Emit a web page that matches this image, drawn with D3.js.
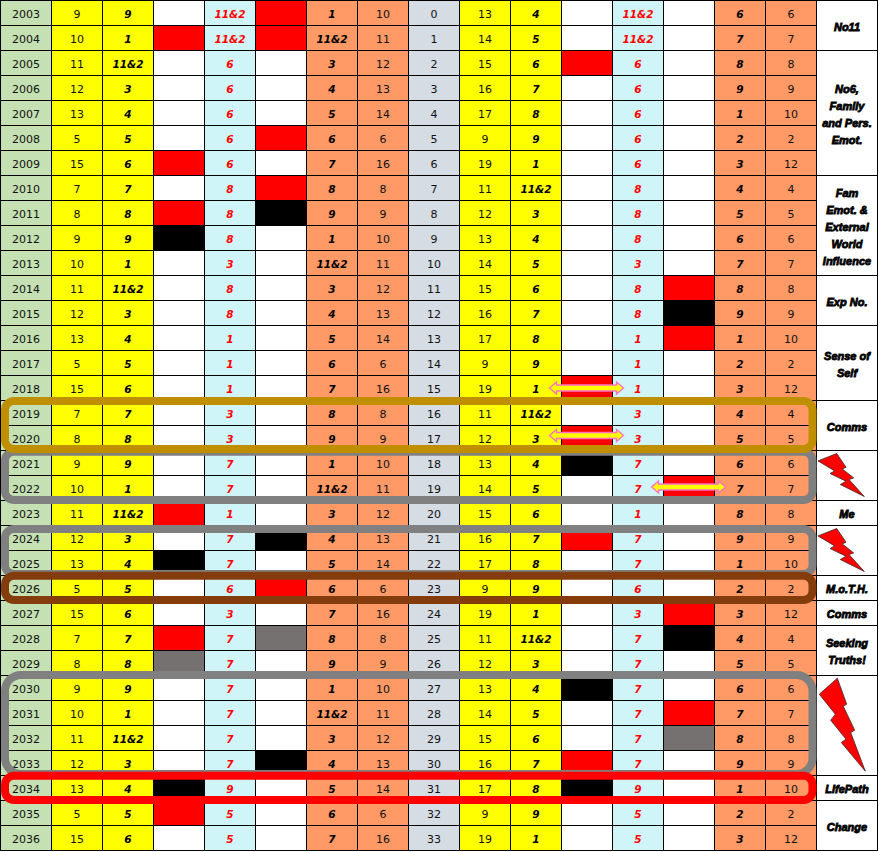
<!DOCTYPE html>
<html>
<head>
<meta charset="utf-8">
<script src="https://cdn.jsdelivr.net/npm/d3@7"></script>
<style>
  body { margin: 0; background: #fff; }
  text { text-anchor: middle; }
  .plain { font: 11px "DejaVu Sans", sans-serif; fill: #111; }
  .bold { font: italic bold 10.5px "DejaVu Sans", sans-serif; fill: #000; }
  .redbold { font: italic bold 10.5px "DejaVu Sans", sans-serif; fill: #f00; }
  .note { font: italic bold 11px "Liberation Sans", sans-serif; fill: #000; stroke: #000; stroke-width: 0.8px; }
</style>
</head>
<body>
<div id="chart"></div>
<script>
const years = d3.range(2003, 2037);

//the number columns, left to right, one value per year
const personal = [9,10,11,12,13,5,15,7,8,9,10,11,12,13,5,15,7,8,9,10,11,12,13,5,15,7,8,9,10,11,12,13,5,15];
const reducedA = ["9","1","11&2","3","4","5","6","7","8","9","1","11&2","3","4","5","6","7","8","9","1","11&2","3","4","5","6","7","8","9","1","11&2","3","4","5","6"];
const pinnacle = ["11&2","11&2","6","6","6","6","6","8","8","8","3","8","8","1","1","1","3","3","7","7","1","7","7","6","3","7","7","7","7","7","7","9","5","5"];
const reducedB = ["1","11&2","3","4","5","6","7","8","9","1","11&2","3","4","5","6","7","8","9","1","11&2","3","4","5","6","7","8","9","1","11&2","3","4","5","6","7"];
const totalB = [10,11,12,13,14,6,16,8,9,10,11,12,13,14,6,16,8,9,10,11,12,13,14,6,16,8,9,10,11,12,13,14,6,16];
const age = d3.range(0, 34);
const totalC = [13,14,15,16,17,9,19,11,12,13,14,15,16,17,9,19,11,12,13,14,15,16,17,9,19,11,12,13,14,15,16,17,9,19];
const reducedC = ["4","5","6","7","8","9","1","11&2","3","4","5","6","7","8","9","1","11&2","3","4","5","6","7","8","9","1","11&2","3","4","5","6","7","8","9","1"];
const reducedD = ["6","7","8","9","1","2","3","4","5","6","7","8","9","1","2","3","4","5","6","7","8","9","1","2","3","4","5","6","7","8","9","1","2","3"];
const totalD = [6,7,8,9,10,2,12,4,5,6,7,8,9,10,2,12,4,5,6,7,8,9,10,2,12,4,5,6,7,8,9,10,2,12];

//years marked in the four blank columns
const redA = [2004,2009,2011,2023,2028,2035];
const blackA = [2012,2025,2034];
const greyA = [2029];
const redB = [2003,2004,2008,2010,2026];
const blackB = [2011,2024,2033];
const greyB = [2028];
const redC = [2005,2018,2020,2024,2033];
const blackC = [2021,2030,2034];
const greyC = [];
const redD = [2014,2016,2022,2027,2031];
const blackD = [2015,2028];
const greyD = [2032];

//merged cells on the right, first year, last year, text (empty = lightning bolt)
const noteFrom = [2003,2005,2010,2014,2016,2019,2021,2023,2024,2026,2027,2028,2030,2034,2035];
const noteTo = [2004,2009,2013,2015,2018,2020,2022,2023,2025,2026,2027,2029,2033,2034,2036];
const noteText = ["No11","No6,|Family|and Pers.|Emot.","Fam|Emot. &|External|World|Influence","Exp No.","Sense of|Self","Comms","","Me","","M.o.T.H.","Comms","Seeking|Truths!","","LifePath","Change"];

//rounded frames over the table, grey ones first because the others sit on top
const frameFrom = [2021,2024,2030,2019,2026,2034];
const frameTo = [2022,2025,2033,2020,2026,2034];
const frameKind = ["grey","grey","grey","gold","brown","red"];

//double arrows
const arrowYear = [2018,2020,2022];
const arrowColumn = ["markC","markC","markD"];

const w = 879;
const h = 852;
const colours = {
  green: "#c5e0b3", yellow: "#ffff00", white: "#ffffff", blue: "#d0f5f9",
  orange: "#ff9966", slate: "#d6dce4", R: "#ff0000", K: "#000000", G: "#767171",
  grey: "#808080", gold: "#bf8f00", brown: "#843c0c", red: "#ff0000"
};

const columns = [
  { key: "year", values: years, bg: colours.green, cls: "plain" },
  { key: "personal", values: personal, bg: colours.yellow, cls: "plain" },
  { key: "reducedA", values: reducedA, bg: colours.yellow, cls: "bold" },
  { key: "markA", marks: [redA, blackA, greyA] },
  { key: "pinnacleA", values: pinnacle, bg: colours.blue, cls: "redbold" },
  { key: "markB", marks: [redB, blackB, greyB] },
  { key: "reducedB", values: reducedB, bg: colours.orange, cls: "bold" },
  { key: "totalB", values: totalB, bg: colours.orange, cls: "plain" },
  { key: "age", values: age, bg: colours.slate, cls: "plain" },
  { key: "totalC", values: totalC, bg: colours.yellow, cls: "plain" },
  { key: "reducedC", values: reducedC, bg: colours.yellow, cls: "bold" },
  { key: "markC", marks: [redC, blackC, greyC] },
  { key: "pinnacleC", values: pinnacle, bg: colours.blue, cls: "redbold" },
  { key: "markD", marks: [redD, blackD, greyD] },
  { key: "reducedD", values: reducedD, bg: colours.orange, cls: "bold" },
  { key: "totalD", values: totalD, bg: colours.orange, cls: "plain" }
];

const x = d3.scaleBand().domain(columns.map(d => d.key)).range([0.5, 816.5]);
const y = d3.scaleBand().domain(years).range([0.5, 850.5]);
const noteLeft = x.range()[1];
const noteWidth = 61;

const svg = d3.select("#chart").append("svg")
  .attr("width", w)
  .attr("height", h)
  .style("display", "block");

//all the table cells
columns.forEach(col => {
  const g = svg.append("g").attr("class", "col-" + col.key);
  const cellFill = yr => {
    if (!col.marks) return col.bg;
    if (col.marks[0].includes(yr)) return colours.R;
    if (col.marks[1].includes(yr)) return colours.K;
    if (col.marks[2].includes(yr)) return colours.G;
    return colours.white;
  };
  g.selectAll("rect").data(years).enter().append("rect")
    .attr("x", x(col.key))
    .attr("y", d => y(d))
    .attr("width", x.bandwidth())
    .attr("height", y.bandwidth())
    .attr("fill", cellFill)
    .attr("stroke", "#000");
  if (col.values) {
    g.selectAll("text").data(col.values).enter().append("text")
      .attr("class", col.cls)
      .attr("x", x(col.key) + x.bandwidth() / 2)
      .attr("y", (d, i) => y(years[i]) + y.bandwidth() / 2 + 5)
      .text(d => d);
  }
});

//merged cells on the right
const boltSmall = [[1.5,10.4],[20.2,3],[29.5,16.7],[25.8,18.4],[37.2,27.4],[32.5,29],[47.8,46],[23.8,34],[29.5,30.7],[13.5,23],[18.2,20.4]];
const boltBig = [[2.8,18.7],[20.8,2.7],[30.2,28.7],[26.8,30.7],[38.2,54.7],[34.2,57],[48.8,95.7],[24.8,67],[29.5,63.7],[14.2,44.7],[18.8,38.7]];
const boltLine = d3.line().curve(d3.curveLinearClosed);

noteFrom.forEach((from, i) => {
  const top = y(from);
  const bottom = y(noteTo[i]) + y.bandwidth();
  svg.append("rect")
    .attr("x", noteLeft)
    .attr("y", top)
    .attr("width", noteWidth)
    .attr("height", bottom - top)
    .attr("fill", "#fff")
    .attr("stroke", "#000");
  if (noteText[i]) {
    const lines = noteText[i].split("|");
    svg.selectAll(null).data(lines).enter().append("text")
      .attr("class", "note")
      .attr("x", noteLeft + noteWidth / 2)
      .attr("y", (d, j) => (top + bottom) / 2 + 5 + (j - (lines.length - 1) / 2) * 17)
      .text(d => d);
  } else {
    const shape = bottom - top > 60 ? boltBig : boltSmall;
    svg.append("path")
      .attr("transform", "translate(" + noteLeft + "," + top + ")")
      .attr("d", boltLine(shape))
      .attr("fill", "#ff0000")
      .attr("stroke", "#3a2a2a")
      .attr("stroke-width", 0.8);
  }
});

//rounded frames, the nudges are how far each one sits off its row lines
const frameNudgeTop = [1.2, 3.5, -0.5, 0.5, 0.2, 0.2];
const frameNudgeBottom = [-0.5, -1.5, -1.5, -1.5, -0.5, -0.5];
frameFrom.forEach((from, i) => {
  const top = y(from) + frameNudgeTop[i];
  const bottom = y(frameTo[i]) + y.bandwidth() + frameNudgeBottom[i];
  svg.append("rect")
    .attr("x", 5)
    .attr("y", top)
    .attr("width", noteLeft - 9)
    .attr("height", bottom - top)
    .attr("rx", bottom - top > 60 ? 16 : 9)
    .attr("fill", "none")
    .attr("stroke", colours[frameKind[i]])
    .attr("stroke-width", 8);
});

//yellow double arrows with pink edge
const arrowLine = d3.line().curve(d3.curveLinearClosed);
const arrowShape = [[-37,0],[-30,-6],[-30,-3],[30,-3],[30,-6],[37,0],[30,6],[30,3],[-30,3],[-30,6]];
const arrowNudge = [0, -2.5, -1];
arrowYear.forEach((yr, i) => {
  svg.append("path")
    .attr("transform", "translate(" + (x(arrowColumn[i]) + x.bandwidth() / 2 - 0.5) + "," + (y(yr) + y.bandwidth() / 2 + arrowNudge[i]) + ")")
    .attr("d", arrowLine(arrowShape))
    .attr("fill", "#ffff00")
    .attr("stroke", "#ff70c8")
    .attr("stroke-width", 1.3);
});
</script>
</body>
</html>
